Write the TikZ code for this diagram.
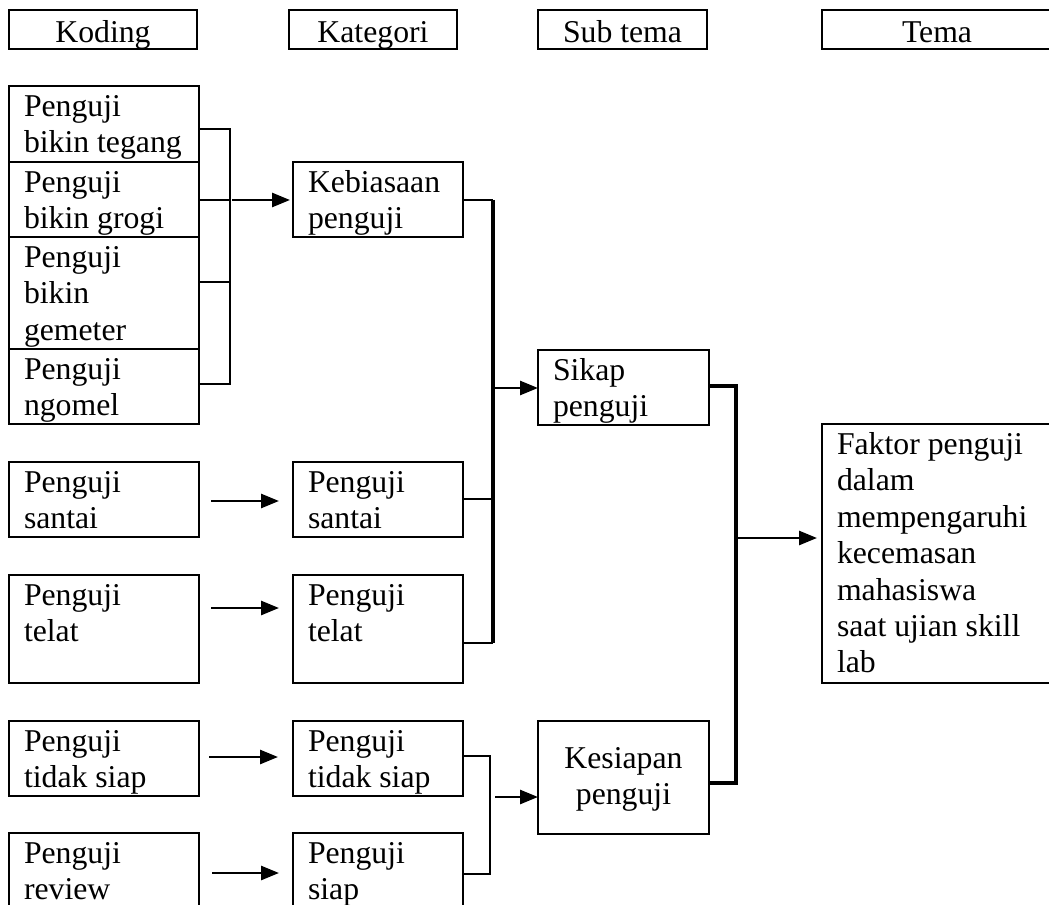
\documentclass[tikz,border=0pt]{standalone}
\usepackage{fontspec}
\setmainfont{Liberation Serif}
\usetikzlibrary{arrows.meta,calc}

% left-aligned box: name, left, top, right, bottom, text
\newcommand\lbox[6]{%
  \node[boxsty,minimum width={(#4-#2)*0.75pt},minimum height={(#5-#3)*0.75pt},anchor=north west] (#1) at (#2,#3) {};
  \node[txtsty,anchor=north west] (#1-txt) at ($(#1.north west)+(15,5)$) {\strut #6};}
% centred box: name, left, top, right, bottom, text offset, text
\newcommand\cbox[7]{%
  \node[boxsty,minimum width={(#4-#2)*0.75pt},minimum height={(#5-#3)*0.75pt},anchor=north west] (#1) at (#2,#3) {};
  \node[txtsty,align=center,anchor=north] (#1-txt) at ($(#1.north)+(0,#6)$) {\strut #7};}

\begin{document}
\begin{tikzpicture}[x=0.75pt,y=-0.75pt,
  boxsty/.style={draw=black,line width=1.8pt,inner sep=0pt,outer sep=0pt},
  txtsty/.style={inner sep=0pt,outer sep=0pt,align=left,font=\fontsize{23.8}{27.3}\selectfont},
  conn/.style={line width=2pt},
  heavy/.style={line width=2.6pt},
  arr/.style={line width=2pt,-{Triangle[length=13.5pt,width=10.5pt]}}]

\clip (0,0) rectangle (1049,905);

% column headers
\cbox{hK}{9}{10}{197}{49}{6.8}{Koding}
\cbox{hC}{289}{10}{457}{49}{6.8}{Kategori}
\cbox{hS}{538}{10}{707}{49}{6.8}{Sub tema}
\cbox{hT}{822}{10}{1052}{49}{6.8}{Tema}

% coding column
\lbox{k1}{9}{86}{199}{162}{Penguji\\bikin tegang}
\lbox{k2}{9}{162}{199}{237}{Penguji\\bikin grogi}
\lbox{k3}{9}{237}{199}{349}{Penguji\\bikin\\gemeter}
\lbox{k4}{9}{349}{199}{424}{Penguji\\ngomel}
\lbox{k5}{9}{462}{199}{537}{Penguji\\santai}
\lbox{k6}{9}{575}{199}{683}{Penguji\\telat}
\lbox{k7}{9}{721}{199}{796}{Penguji\\tidak siap}
\lbox{k8}{9}{833}{199}{912}{Penguji\\review}

% category column
\lbox{c1}{293}{162}{463}{237}{Kebiasaan\\penguji}
\lbox{c2}{293}{462}{463}{537}{Penguji\\santai}
\lbox{c3}{293}{575}{463}{683}{Penguji\\telat}
\lbox{c4}{293}{721}{463}{796}{Penguji\\tidak siap}
\lbox{c5}{293}{833}{463}{912}{Penguji\\siap}

% sub-theme column
\lbox{s1}{538}{350}{709}{425}{Sikap\\penguji}
\cbox{s2}{538}{721}{709}{834}{21.8}{Kesiapan\\penguji}

% theme
\lbox{t}{822}{424}{1052}{683}{Faktor penguji\\dalam\\mempengaruhi\\kecemasan\\mahasiswa\\saat ujian skill\\lab}

% bracket joining the four codes
\coordinate (q1) at (230,129);
\coordinate (q2) at (230,200);
\coordinate (q3) at (230,282);
\coordinate (q4) at (230,384);
\draw[conn] (k1.east |- q1) -- (q1) -- (q4) -- (k4.east |- q4);
\draw[conn] (k2.east |- q2) -- (q2);
\draw[conn] (k3.east |- q3) -- (q3);
\draw[arr,shorten <=1.5pt,shorten >=2.25pt] (q2) -- (c1.west |- q2);

% single code to category arrows
\draw[arr,shorten <=9pt,shorten >=10.5pt] ($(k5.north east)+(0,39)$) -- ($(c2.north west)+(0,39)$);
\draw[arr,shorten <=9pt,shorten >=10.5pt] ($(k6.north east)+(0,33)$) -- ($(c3.north west)+(0,33)$);
\draw[arr,shorten <=7.5pt,shorten >=11.25pt] ($(k7.north east)+(0,36)$) -- ($(c4.north west)+(0,36)$);
\draw[arr,shorten <=9.75pt,shorten >=10.5pt] ($(k8.north east)+(0,40)$) -- ($(c5.north west)+(0,40)$);

% bracket into "Sikap penguji"
\coordinate (m1) at (493,200);
\coordinate (m2) at (493,643);
\coordinate (m3) at (493,499);
\coordinate (m4) at (493,388);
\draw[conn] (c1.east |- m1) -- (m1);
\draw[heavy] (m1) -- (m2);
\draw[conn] (c2.east |- m3) -- (m3);
\draw[conn] (c3.east |- m2) -- (m2);
\draw[arr] (m4) -- (s1.west |- m4);

% bracket into "Kesiapan penguji"
\coordinate (n1) at (490,756);
\coordinate (n2) at (490,874);
\coordinate (n3) at (495,797);
\draw[conn] (c4.east |- n1) -- (n1) -- (n2) -- (c5.east |- n2);
\draw[arr] (n3) -- (s2.west |- n3);

% bracket into the theme
\coordinate (p1) at (736,386);
\coordinate (p2) at (736,783);
\coordinate (p3) at (736,538);
\draw[heavy] (s1.east |- p1) -- (p1) -- (p2) -- (s2.east |- p2);
\draw[arr,shorten >=3.75pt] (p3) -- (t.west |- p3);
\end{tikzpicture}
\end{document}
